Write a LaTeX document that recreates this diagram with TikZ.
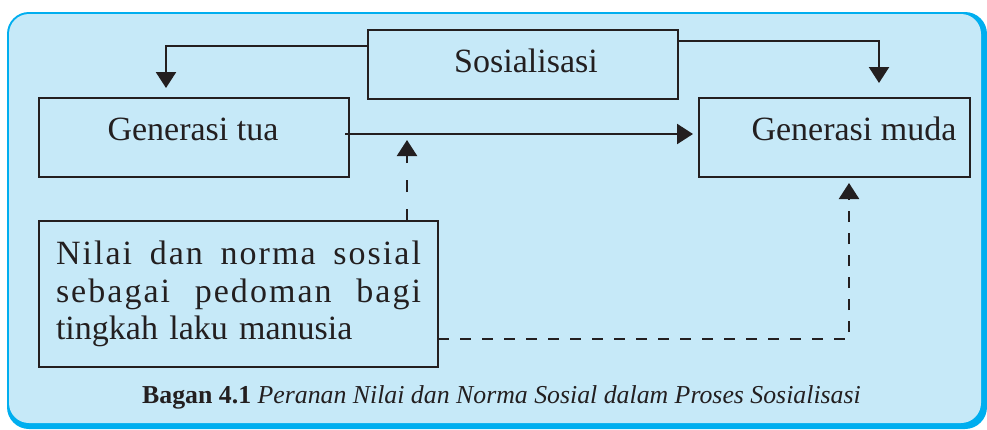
\documentclass[tikz,border=0pt]{standalone}
\usepackage{fontspec}
\setmainfont{Liberation Serif}
\newfontfamily\spreadfont[LetterSpace=6]{Liberation Serif}
\usetikzlibrary{arrows.meta,calc}
\definecolor{panelfill}{HTML}{C6E9F8}
\definecolor{panelrim}{HTML}{00AEEF}
\definecolor{ink}{HTML}{231F20}
\begin{document}
\begin{tikzpicture}[x=1pt,y=-1pt,
  box/.style={draw=ink, line width=2.4pt, inner sep=0pt, outer sep=0pt},
  lbl/.style={text=ink, font=\fontsize{34}{38}\selectfont, inner sep=0pt},
  flow/.style={draw=ink, line width=2.4pt, -{Triangle[width=20pt,length=16pt]}},
  dflow/.style={flow, dash pattern=on 11pt off 11pt}]
\useasboundingbox (0,0) rectangle (987,429);

% panel with a thicker rim on the right and bottom
\fill[panelrim, rounded corners=22pt] (7,12) rectangle (987,429);
\fill[panelfill, rounded corners=20pt] (9,14) rectangle (981,423);

% boxes
\node[box, minimum width=310pt, minimum height=69pt] (soc) at (523,64.5) {};
\node[box, minimum width=310pt, minimum height=79pt] (tua) at (194,137.5) {};
\node[box, minimum width=271pt, minimum height=79pt] (muda) at (834.5,137.5) {};
\node[box, minimum width=399pt, minimum height=146pt, text width=365pt,
      inner xsep=17pt, align=left, text=ink,
      font=\fontsize{34}{37.5}\selectfont] (nilai) at (238.5,294)
  {\makebox[365pt][l]{\spreadfont Nilai\hfill dan\hfill norma\hfill sosial}\\
   \makebox[365pt][l]{\spreadfont sebagai\hfill pedoman\hfill bagi}\\
   tingkah laku manusia};

% box labels
\node[lbl, anchor=base] (socT) at (526,72) {Sosialisasi};
\node[lbl, anchor=base] (tuaT) at (193,140) {Generasi tua};
\node[lbl, anchor=base] (mudaT) at (854,140) {Generasi muda};

% solid connectors
\draw[flow, shorten >=10pt] ($(soc.north west)+(0,16)$) -| ($(tua.north)+(-28,0)$);
\draw[flow, shorten >=15pt] ($(soc.north east)+(0,11)$) -| ($(muda.north)+(44.5,0)$);
\draw[flow, shorten >=6pt] ($(tua.east)+(-4,-3.5)$) -- ($(muda.west)+(0,-3.5)$);

% dashed connectors
\coordinate (upTip) at (407,140);
\draw[flow, dash pattern=on 12pt off 17pt] ($(nilai.north east)+(-31,0)$) -- (upTip);
\draw[dflow, shorten >=6pt] ($(nilai.east)+(0,45)$) -| ($(muda.south)+(14.5,0)$);

% caption
\node[anchor=base west, text=ink, inner sep=0pt, font=\fontsize{25.8}{30}\selectfont] (cap)
  at (142,403) {\textbf{Bagan 4.1} \textit{Peranan Nilai dan Norma Sosial dalam Proses Sosialisasi}};
\end{tikzpicture}
\end{document}
